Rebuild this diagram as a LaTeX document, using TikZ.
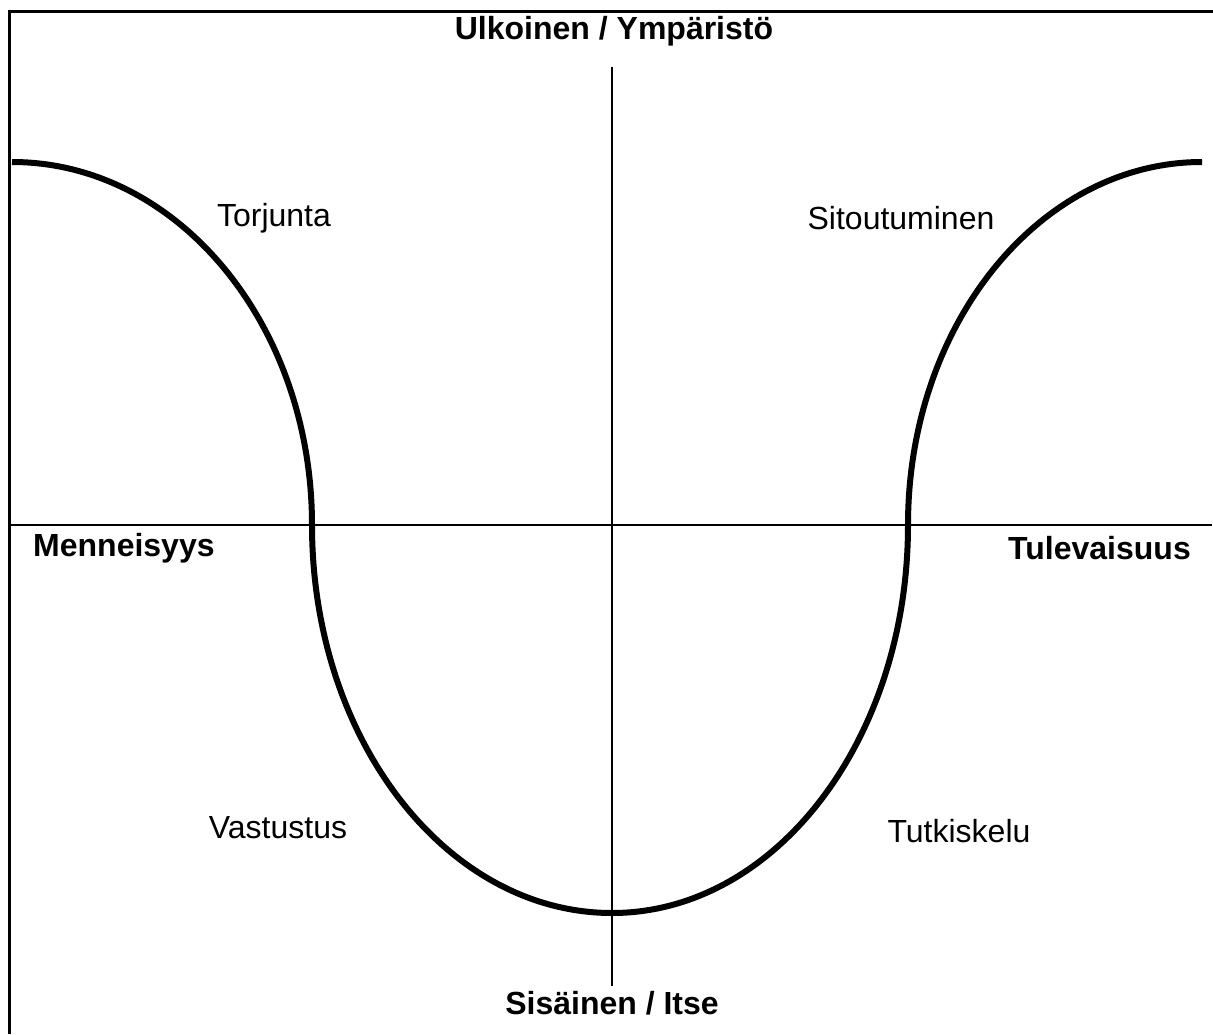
\documentclass[tikz,border=0pt]{standalone}
\usepackage{fontspec}
\setmainfont{Liberation Sans}
\begin{document}
\begin{tikzpicture}[x=1pt,y=1pt,
  lbl/.style={inner sep=0pt,font=\fontsize{32}{36}\selectfont},
  blbl/.style={lbl,font=\fontsize{32}{36}\selectfont\bfseries},
  axis/.style={line width=2pt},
  frame/.style={line width=3pt},
  curve/.style={line width=6pt}]
\useasboundingbox (0,0) rectangle (1213,-1034);
% frame
\draw[frame] (9,-1034) -- (9,-11) -- (1213,-11);
% axes
\coordinate (hl) at (10,-525);
\coordinate (hr) at (1212,-525);
\coordinate (vt) at (612,-67);
\coordinate (vb) at (612,-986);
\draw[axis] (hl) -- (hr);
\draw[axis] (vt) -- (vb);
% curve
\draw[curve] (12,-162) arc[start angle=90,end angle=0,x radius=300,y radius=363]
  arc[start angle=180,end angle=270,x radius=300,y radius=388]
  arc[start angle=270,end angle=360,x radius=296,y radius=388]
  arc[start angle=180,end angle=90,x radius=294,y radius=363];
% labels
\node[blbl] (top) at (614,-31) {Ulkoinen / Ympäristö};
\node[blbl] (bot) at (612,-1003) {Sisäinen / Itse};
\node[blbl,anchor=west] (past) at (33,-548) {Menneisyys};
\node[blbl,anchor=east] (fut) at (1191,-548) {Tulevaisuus};
\node[lbl] (q1) at (274,-218) {Torjunta};
\node[lbl] (q2) at (901,-218) {Sitoutuminen};
\node[lbl] (q3) at (278,-828) {Vastustus};
\node[lbl] (q4) at (959,-831) {Tutkiskelu};
\end{tikzpicture}
\end{document}
